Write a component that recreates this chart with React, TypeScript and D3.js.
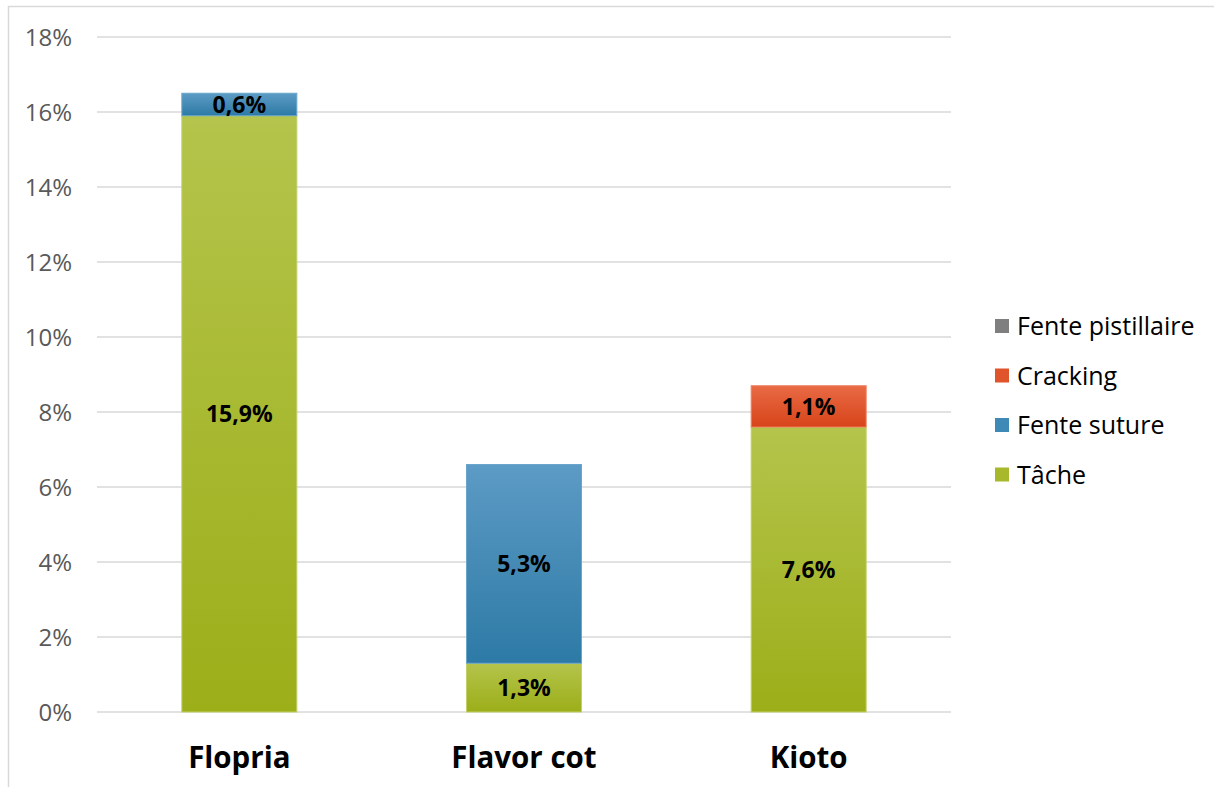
import React from "react";
import * as d3 from "d3";

const categories = ["Flopria", "Flavor cot", "Kioto"];
const seriesNames = ["Tâche", "Fente suture", "Cracking", "Fente pistillaire"];
const tache = [15.9, 1.3, 7.6];
const fenteSuture = [0.6, 5.3, 0];
const cracking = [0, 0, 1.1];
const fentePistillaire = [0, 0, 0];
const yTicks = [0, 2, 4, 6, 8, 10, 12, 14, 16, 18];
const legendOrder = ["Fente pistillaire", "Cracking", "Fente suture", "Tâche"];

const W = 1214;
const H = 787;
const FONT = "'Open Sans', Lato, 'Noto Sans', sans-serif";

const colors: Record<string, { top: string; bottom: string; stroke: string; legend: string }> = {
  "Tâche": { top: "#b4c44c", bottom: "#9cae18", stroke: "#c3d06a", legend: "#a8b82c" },
  "Fente suture": { top: "#5c9bc5", bottom: "#2d7aa6", stroke: "#6aa6cc", legend: "#3e89b6" },
  "Cracking": { top: "#e86a44", bottom: "#d8441a", stroke: "#ee8060", legend: "#e0542b" },
  "Fente pistillaire": { top: "#8a8a8a", bottom: "#777777", stroke: "#999999", legend: "#7f7f7f" },
};

export default function App() {
  const values: Record<string, number[]> = {
    "Tâche": tache,
    "Fente suture": fenteSuture,
    "Cracking": cracking,
    "Fente pistillaire": fentePistillaire,
  };
  const table = categories.map((c, i) => {
    const row: any = { cat: c };
    seriesNames.forEach((s) => (row[s] = values[s][i]));
    return row;
  });
  const stacked = d3.stack<any>().keys(seriesNames)(table);

  const x = d3.scaleBand<string>().domain(categories).range([97, 951]).paddingInner(0.596).paddingOuter(0.298);
  const y = d3.scaleLinear().domain([0, 18]).range([712, 37]);

  const fmt = (v: number) => v.toFixed(1).replace(".", ",") + "%";

  return (
    <svg width={W} height={H} style={{ position: "absolute", left: 0, top: 0, background: "#fff" }} fontFamily={FONT}>
      <defs>
        {seriesNames.map((s, i) => (
          <linearGradient key={s} id={"g" + i} x1="0" y1="0" x2="0" y2="1">
            <stop offset="0" stopColor={colors[s].top} />
            <stop offset="1" stopColor={colors[s].bottom} />
          </linearGradient>
        ))}
      </defs>
      <rect x={8.5} y={6.5} width={W} height={H} fill="#fff" stroke="#d9d9d9" strokeWidth={1.5} />
      {yTicks.map((t) => (
        <g key={t}>
          <line x1={97} x2={951} y1={y(t)} y2={y(t)} stroke="#d9d9d9" strokeWidth={1.5} />
          <text x={72} y={y(t)} dy="0.36em" textAnchor="end" fontSize={24} fill="#595959">
            {t}%
          </text>
        </g>
      ))}
      {stacked.map((layer, li) =>
        layer.map((d, ci) => {
          const v = d[1] - d[0];
          if (v <= 0) return null;
          const cat = categories[ci];
          const x0 = x(cat)!;
          const yt = y(d[1]);
          const yb = y(d[0]);
          return (
            <g key={layer.key + cat}>
              <rect x={x0} y={yt} width={x.bandwidth()} height={yb - yt} fill={`url(#g${li})`} stroke={colors[layer.key].stroke} strokeWidth={1} />
              <text x={x0 + x.bandwidth() / 2} y={(yt + yb) / 2} dy="0.36em" textAnchor="middle" fontSize={23} fontWeight="bold" fill="#000">
                {fmt(v)}
              </text>
            </g>
          );
        })
      )}
      {categories.map((c) => (
        <text key={c} x={x(c)! + x.bandwidth() / 2} y={768} textAnchor="middle" fontSize={29.5} fontWeight="bold" fill="#000">
          {c}
        </text>
      ))}
      {legendOrder.map((s, i) => {
        const cy = 326 + i * 49.5;
        return (
          <g key={s}>
            <rect x={995} y={cy - 7} width={14} height={14} fill={colors[s].legend} />
            <text x={1017} y={cy} dy="0.36em" fontSize={25} fill="#000">
              {s}
            </text>
          </g>
        );
      })}
    </svg>
  );
}
